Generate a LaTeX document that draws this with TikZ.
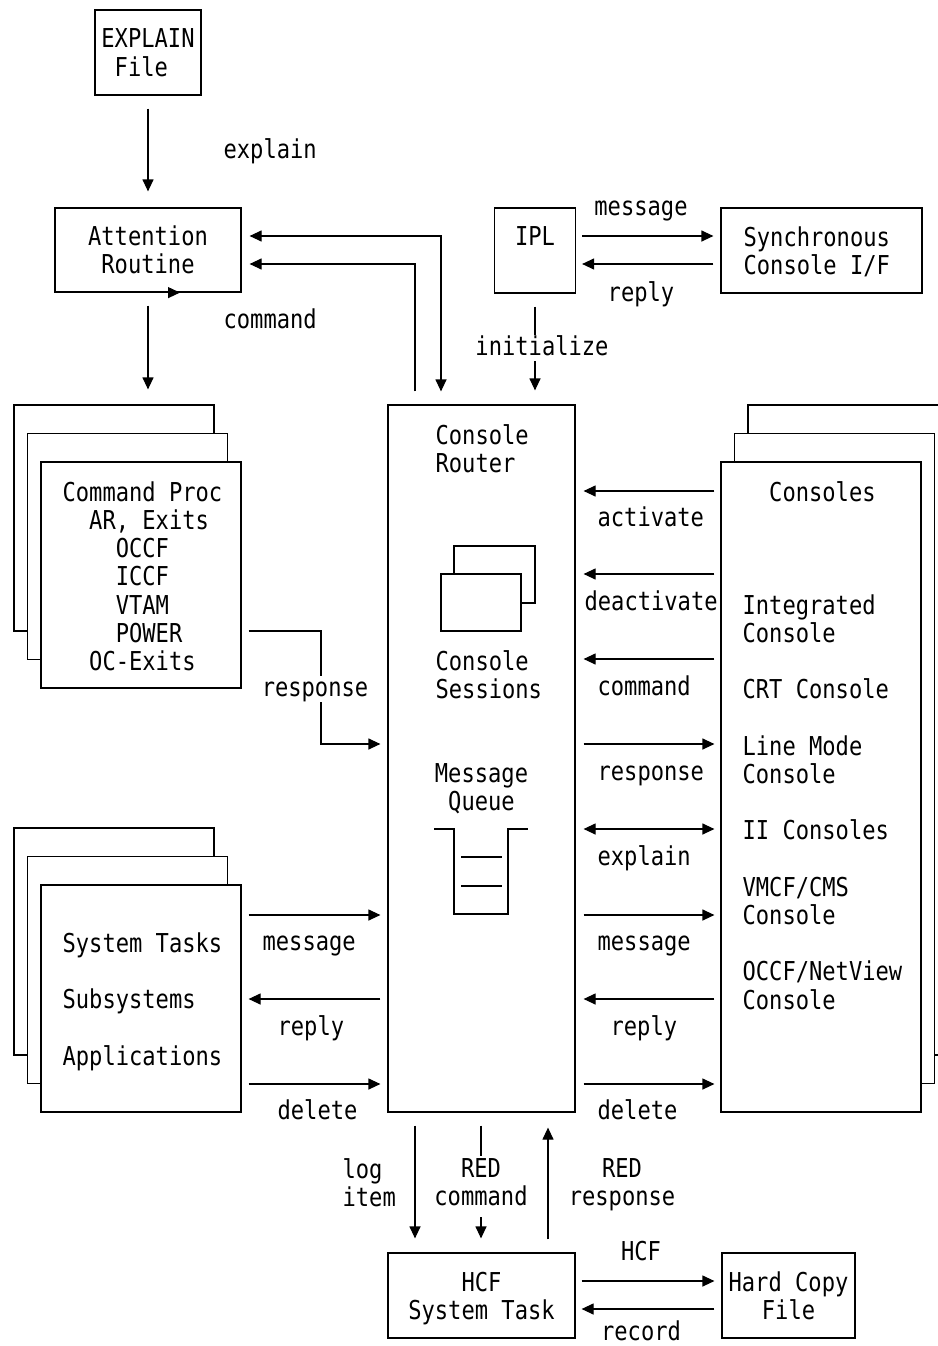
\documentclass[tikz,border=0pt]{standalone}
\usepackage{fontspec}
\newfontfamily\diagmono[FakeStretch=0.85]{DejaVu Sans Mono}
\newcommand\diagfont{\diagmono\fontsize{26}{28.2}\selectfont}
\usetikzlibrary{arrows.meta}
\tikzset{
  box/.style={draw, inner sep=0pt, align=center, text depth=0pt, font=\diagfont},
  txt/.style={inner sep=0pt, align=left, anchor=north west, font=\diagfont, execute at begin node=\strut},
  lbl/.style={inner sep=1pt, text height=19pt, text depth=5pt, font=\diagfont}
}
\begin{document}
\begin{tikzpicture}[x=1pt,y=-1pt,line width=1.2pt,>={Triangle[length=12pt,width=11pt]}]
  \useasboundingbox (0,0) rectangle (937,1346);

  % Top row: EXPLAIN file, attention routine, IPL
  \node[box, align=left, minimum width=106pt, minimum height=85pt] (xfile) at (148,52.5) {EXPLAIN\\\hphantom{0}File};
  \node[box, minimum width=186pt, minimum height=84pt] (attn) at (148,250) {Attention\\Routine};
  \node[box, minimum width=81pt, minimum height=85pt] (ipl) at (535,250.5) {IPL\\\mbox{}};
  \node[box, minimum width=201pt, minimum height=85pt] (sync) at (821.5,250.5) {};
  \node[txt] (synctxt) at (743,226) {Synchronous\\Console I/F};

  % Stacked boxes: command processors
  \foreach \d in {2,1}
    \node[box, fill=white, minimum width=200pt, minimum height=226pt] (cmd\d) at (141-13.5*\d,575-28.5*\d) {};
  \node[box, fill=white, minimum width=200pt, minimum height=226pt] (cmd) at (141,575) {};
  \node[txt] (cmdtxt) at (62,481) {Command Proc\\\hphantom{00}AR, Exits\\\hphantom{0000}OCCF\\\hphantom{0000}ICCF\\\hphantom{0000}VTAM\\\hphantom{0000}POWER\\\hphantom{00}OC-Exits};

  % Stacked boxes: system tasks
  \foreach \d in {2,1}
    \node[box, fill=white, minimum width=200pt, minimum height=227pt] (sys\d) at (141-13.5*\d,998.5-28.5*\d) {};
  \node[box, fill=white, minimum width=200pt, minimum height=227pt] (sys) at (141,998.5) {};
  \node[txt] (systxt) at (62,932) {System Tasks\\[28.2pt]Subsystems\\[28.2pt]Applications};

  % Stacked boxes: consoles
  \foreach \d in {2,1}
    \node[box, fill=white, minimum width=200pt, minimum height=650pt] (cons\d) at (821+13.5*\d,787-28.5*\d) {};
  \node[box, fill=white, minimum width=200pt, minimum height=650pt] (cons) at (821,787) {};
  \node[txt] (constxt) at (742,481) {\hphantom{00}Consoles\\[84.6pt]Integrated\\Console\\[28.2pt]CRT Console\\[28.2pt]Line Mode\\Console\\[28.2pt]II Consoles\\[28.2pt]VMCF/CMS\\Console\\[28.2pt]OCCF/NetView\\Console};

  % Console router with its sessions and message queue
  \node[box, minimum width=187pt, minimum height=707pt] (router) at (481.5,758.5) {};
  \node[txt] (rtrtxt) at (435,424) {Console\\Router};
  \node[box, fill=white, minimum width=81pt, minimum height=57pt] (sessB) at (494.5,574.5) {};
  \node[box, fill=white, minimum width=80pt, minimum height=57pt] (sessA) at (481,602.5) {};
  \node[txt] (sesstxt) at (435,650) {Console\\Sessions};
  \node[txt, align=center, anchor=north] (queuetxt) at (481.5,763) {Message\\Queue};
  \draw (434,829) -- (454,829) -- (454,914) -- (508,914) -- (508,829) -- (528,829);
  \draw (461,857) -- (502,857);
  \draw (461,886) -- (502,886);

  % Bottom row: hard copy
  \node[box, minimum width=187pt, minimum height=85pt] (hcf) at (481.5,1295.5) {HCF\\System Task};
  \node[box, minimum width=133pt, minimum height=85pt] (hard) at (788.5,1295.5) {Hard Copy\\File};

  % Connectors at the top
  \draw[->, shorten <=13pt, shorten >=16pt] (xfile) -- (attn);
  \node[lbl, anchor=west] (explbl) at (222,151) {explain};
  \draw[->] ([xshift=20pt]attn.south) -- ([xshift=32pt]attn.south);
  \draw[->, shorten <=13pt, shorten >=15pt] (attn.south) -- (attn.south |- cmd2.north);
  \node[lbl, anchor=west] (cmdlbl) at (222,321) {command};
  \draw[<->, shorten <=8pt, shorten >=13pt] ([yshift=14pt]attn.east) -| ([xshift=-40.5pt]router.north);
  \draw[->, shorten <=13pt, shorten >=8pt] ([xshift=-66.5pt]router.north) |- ([yshift=-14pt]attn.east);
  \draw[->, shorten <=6pt, shorten >=7pt] ([yshift=14.5pt]ipl.east) -- ([yshift=14.5pt]sync.west);
  \draw[->, shorten <=7pt, shorten >=6pt] ([yshift=-13.5pt]sync.west) -- ([yshift=-13.5pt]ipl.east);
  \node[lbl] (msglbl) at (641,208) {message};
  \node[lbl] (replbl) at (641,294) {reply};
  \draw[->, shorten <=13pt, shorten >=14pt] (ipl.south) -- (ipl.south |- router.north);
  \node[lbl, fill=white] (initlbl) at (542,348) {initialize};

  % Connectors on the left of the router
  \draw[->, shorten >=7pt] ([xshift=7pt,yshift=-56pt]cmd.east) -| (321,744) -- (router.west |- 321,744);
  \node[lbl, fill=white] (resplbl) at (315,689) {response};
  \draw[->, shorten <=7pt, shorten >=7pt] (sys.east |- 0,915) -- (router.west |- 0,915);
  \draw[->, shorten <=7pt, shorten >=7pt] (router.west |- 0,999) -- (sys.east |- 0,999);
  \draw[->, shorten <=7pt, shorten >=7pt] (sys.east |- 0,1084) -- (router.west |- 0,1084);
  \node[lbl, anchor=west] (lmsglbl) at (261,943) {message};
  \node[lbl, anchor=west] (lreplbl) at (276,1028) {reply};
  \node[lbl, anchor=west] (ldellbl) at (276,1112) {delete};

  % Connectors on the right of the router
  \foreach \y in {491,574,659}
    \draw[->, shorten <=6pt, shorten >=8pt] (cons.west |- 0,\y) -- (router.east |- 0,\y);
  \foreach \y in {744,915,1084}
    \draw[->, shorten <=8pt, shorten >=6pt] (router.east |- 0,\y) -- (cons.west |- 0,\y);
  \draw[<->, shorten <=8pt, shorten >=6pt] (router.east |- 0,829) -- (cons.west |- 0,829);
  \draw[->, shorten <=6pt, shorten >=8pt] (cons.west |- 0,999) -- (router.east |- 0,999);
  \foreach \x/\y/\t in {596/519/activate, 583/603/deactivate, 596/688/command, 596/773/response,
                        596/858/explain, 596/943/message, 609/1028/reply, 596/1112/delete}
    \node[lbl, anchor=west] at (\x,\y) {\t};

  % Connectors at the bottom
  \draw[->, shorten <=13pt, shorten >=14pt] ([xshift=-66.5pt]router.south) -- ([xshift=-66.5pt]hcf.north);
  \node[txt] (loglbl) at (342,1158) {log\\item};
  \draw[->, shorten <=13pt, shorten >=14pt] ([xshift=-0.5pt]router.south) -- ([xshift=-0.5pt]hcf.north);
  \node[txt, align=center, anchor=north, fill=white, inner ysep=3pt] (redcmd) at (481,1155) {RED\\command};
  \draw[->, shorten <=13pt, shorten >=15pt] ([xshift=66.5pt]hcf.north) -- ([xshift=66.5pt]router.south);
  \node[txt, align=center, anchor=north] (redresp) at (622,1158) {RED\\response};
  \draw[->, shorten <=6pt, shorten >=7pt] ([yshift=14.5pt]hcf.east) -- ([yshift=14.5pt]hard.west);
  \draw[->, shorten <=7pt, shorten >=6pt] ([yshift=-13.5pt]hard.west) -- ([yshift=-13.5pt]hcf.east);
  \node[lbl] (hcflbl) at (641,1253) {HCF};
  \node[lbl] (reclbl) at (641,1333) {record};
\end{tikzpicture}
\end{document}
